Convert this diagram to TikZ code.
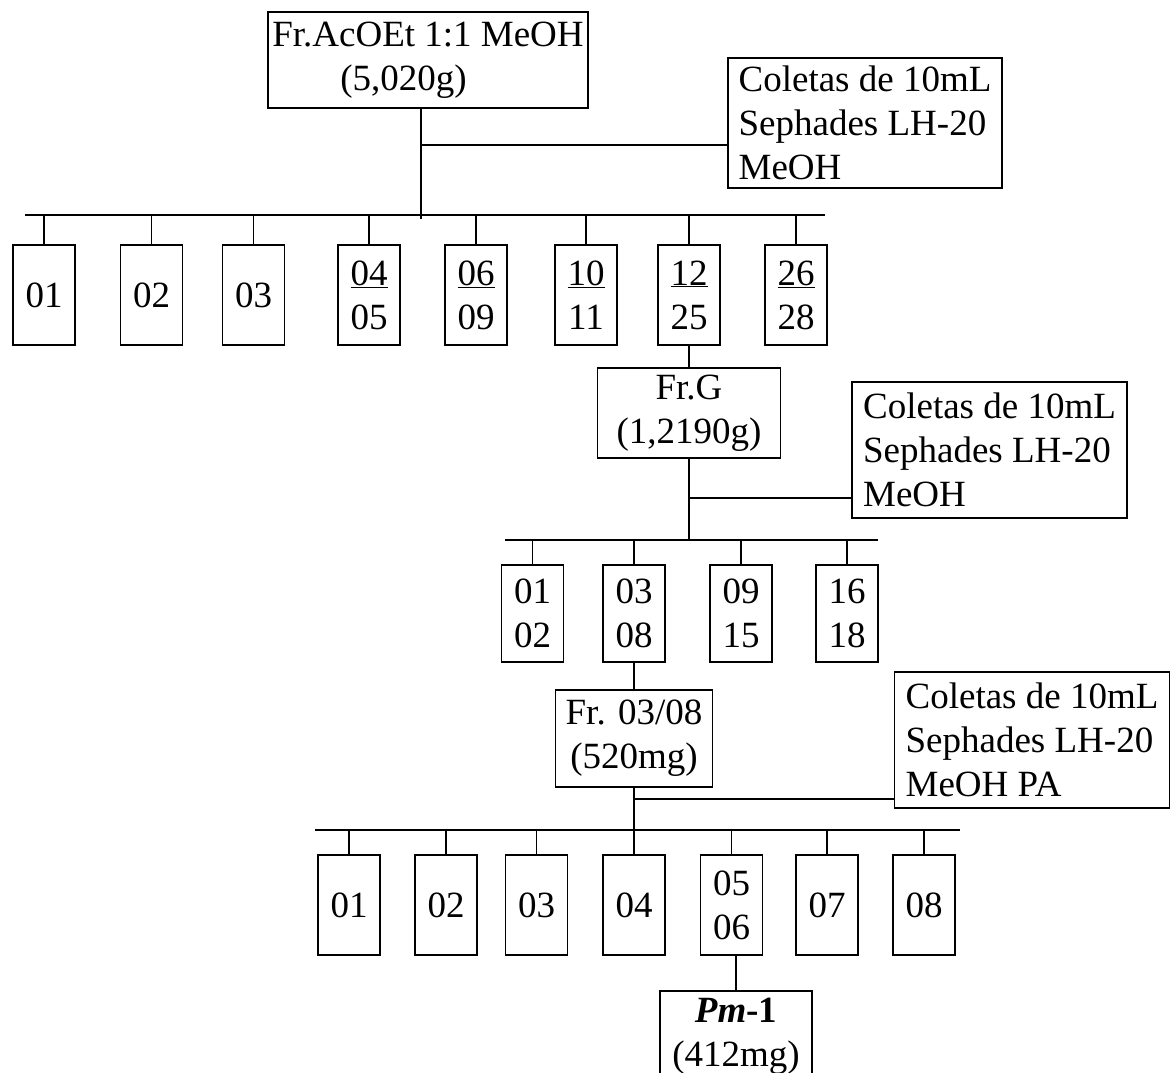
\documentclass[tikz,border=0pt]{standalone}
\usepackage{fontspec}
\setmainfont{Liberation Serif}
\usetikzlibrary{positioning}

\begin{document}
\begin{tikzpicture}[x=1pt,y=-1pt,line width=1.8pt,
  every node/.style={font=\fontsize{37}{44}\selectfont},
  fracbox/.style={draw,align=center,minimum width=62pt,inner sep=0pt},
  mainbox/.style={draw,align=center,inner xsep=3pt,inner ysep=0pt},
  colbox/.style={draw,align=left,minimum width=275pt,minimum height=136pt,inner sep=0pt}]
  \useasboundingbox (0,0) rectangle (1173,1072);
  % first column
  \node[mainbox,align=left,minimum width=320pt,minimum height=96pt] (top) at (428,60)
    {Fr.AcOEt 1:1 MeOH\\\hspace*{68pt}(5,020g)};
  \node[colbox,minimum width=274pt,minimum height=130pt] (colA) at (865,123)
    {Coletas de 10mL\\Sephades LH-20\\MeOH};
  \coordinate (jA) at (421,219);
  \coordinate (kA) at (421,145);
  \coordinate (barAl) at (25,215);
  \coordinate (barAr) at (825,215);
  \draw (top.south -| jA) -- (jA);
  \draw (kA) -- (kA -| colA.west);
  \draw (barAl) -- (barAr);
  \foreach \n/\x/\t in {a1/44/01, a2/151.5/02, a3/253.5/03,
      a4/369/{\underline{04}\\05}, a5/476/{\underline{06}\\09},
      a6/586/{\underline{10}\\11}, a7/689/{\underline{12}\\25},
      a8/796/{\underline{26}\\28}}{
    \node[fracbox,minimum height=100pt] (\n) at (\x,295) {\t};
    \draw (\n.north) -- (\n.north |- barAl);
  }
  % second column
  \node[mainbox,minimum width=183pt,minimum height=90pt] (frG) at (689,413)
    {Fr.G\\(1,2190g)};
  \draw (a7.south) -- (frG.north);
  \node[colbox] (colB) at (989.5,450) {Coletas de 10mL\\Sephades LH-20\\MeOH};
  \coordinate (barBl) at (505,540);
  \coordinate (barBr) at (878,540);
  \path (frG.south) ++(0,39) coordinate (kB);
  \draw (frG.south) -- (frG.south |- barBl);
  \draw (kB) -- (kB -| colB.west);
  \draw (barBl) -- (barBr);
  \foreach \n/\x/\t in {b1/532.5/{01\\02}, b2/634/{03\\08},
      b3/741/{09\\15}, b4/847/{16\\18}}{
    \node[fracbox,minimum height=97pt] (\n) at (\x,613.5) {\t};
    \draw (\n.north) -- (\n.north |- barBl);
  }
  % third column
  \node[mainbox,minimum width=157pt,minimum height=97pt] (frC) at (634,738.5)
    {Fr. 03/08\\(520mg)};
  \draw (b2.south) -- (frC.north);
  \node[colbox] (colC) at (1032,740) {Coletas de 10mL\\Sephades LH-20\\MeOH PA};
  \coordinate (barCl) at (315,830);
  \coordinate (barCr) at (960,830);
  \path (frC.south) ++(0,11) coordinate (kC);
  \draw (frC.south) -- (frC.south |- barCl);
  \draw (kC) -- (kC -| colC.west);
  \draw (barCl) -- (barCr);
  \foreach \n/\x/\t in {c1/349/01, c2/446/02, c3/536.5/03, c4/634/04,
      c5/731.5/{05\\06}, c6/827/07, c7/924/08}{
    \node[fracbox,minimum height=100pt] (\n) at (\x,905) {\t};
    \draw (\n.north) -- (\n.north |- barCl);
  }
  % product
  \node[mainbox,anchor=north,minimum width=152pt,minimum height=90pt] (pm) at (736,990)
    {\textbf{\textit{Pm}-1}\\(412mg)};
  \draw (pm.north |- c5.south) -- (pm.north);
\end{tikzpicture}
\end{document}
